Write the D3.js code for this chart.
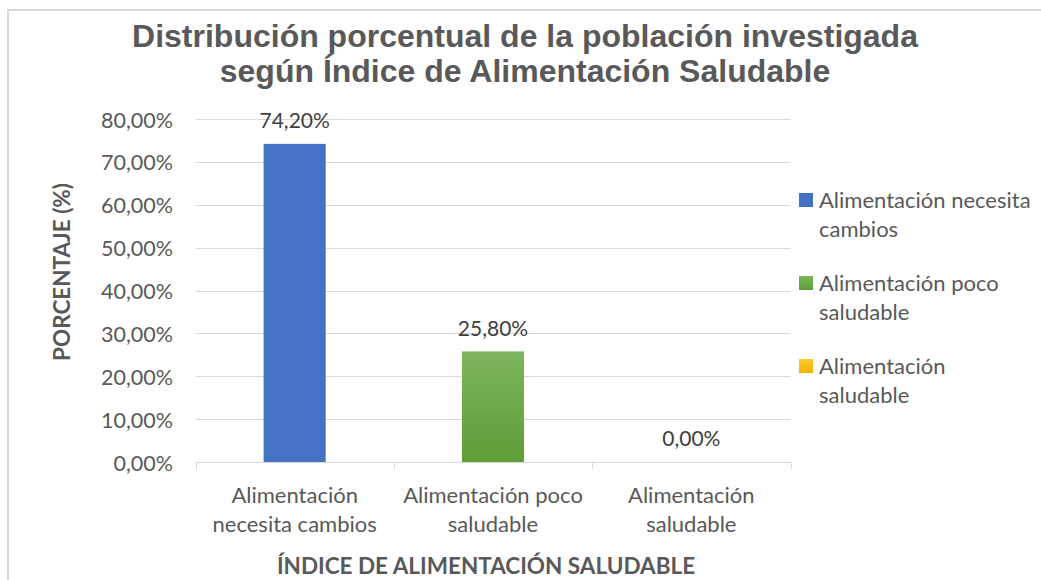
<!DOCTYPE html>
<html>
<head>
<meta charset="utf-8">
<script src="https://cdn.jsdelivr.net/npm/d3@7"></script>
<style>
  html, body { margin: 0; padding: 0; background: #fff; }
  svg { display: block; }
</style>
</head>
<body>
<svg id="chart" width="1041" height="580"></svg>
<script>
const titleLines = ["Distribución porcentual de la población investigada", "según Índice de Alimentación Saludable"];
const categories = ["Alimentación necesita cambios", "Alimentación poco saludable", "Alimentación saludable"];
const categoryLabelLines = [["Alimentación", "necesita cambios"], ["Alimentación poco", "saludable"], ["Alimentación", "saludable"]];
const values = [74.2, 25.8, 0.0];
const valueLabels = ["74,20%", "25,80%", "0,00%"];
const yTicks = [0, 10, 20, 30, 40, 50, 60, 70, 80];
const yTickLabels = ["0,00%", "10,00%", "20,00%", "30,00%", "40,00%", "50,00%", "60,00%", "70,00%", "80,00%"];
const legendLines = [["Alimentación necesita", "cambios"], ["Alimentación poco", "saludable"], ["Alimentación", "saludable"]];
const colors = ["#4472c4", "url(#gGreen)", "url(#gYellow)"];
const xTitle = "ÍNDICE DE ALIMENTACIÓN SALUDABLE";
const yTitle = "PORCENTAJE (%)";

const svg = d3.select("#chart");
const font = "Lato, 'Open Sans', sans-serif";
const textCol = "#595959";

const defs = svg.append("defs");
const gg = defs.append("linearGradient").attr("id", "gGreen").attr("x1", 0).attr("y1", 0).attr("x2", 0).attr("y2", 1);
gg.append("stop").attr("offset", "0%").attr("stop-color", "#7db55f");
gg.append("stop").attr("offset", "100%").attr("stop-color", "#5f9d36");
const gy = defs.append("linearGradient").attr("id", "gYellow").attr("x1", 0).attr("y1", 0).attr("x2", 0).attr("y2", 1);
gy.append("stop").attr("offset", "0%").attr("stop-color", "#ffcb33");
gy.append("stop").attr("offset", "100%").attr("stop-color", "#f0b400");

// chart border
svg.append("path").attr("d", "M8,580 L8,10 L1041,10").attr("fill", "none").attr("stroke", "#d9d9d9").attr("stroke-width", 2);

// title
svg.append("text").attr("font-family", "'Liberation Sans', Arial, sans-serif")
  .attr("font-weight", "bold").attr("font-size", 32).attr("fill", textCol).attr("text-anchor", "middle")
  .selectAll("tspan").data(titleLines).join("tspan")
  .attr("x", 525).attr("y", (d, i) => 47 + i * 35).text(d => d);

const x = d3.scaleBand().domain(categories).range([195.5, 790.5]).paddingInner(0.687).paddingOuter(0.3435);
const xb = d3.scaleBand().domain(categories).range([195.5, 790.5]).padding(0);
const y = d3.scaleLinear().domain([0, 80]).range([462, 119]);

// gridlines
svg.append("g").selectAll("line").data(yTicks.filter(t => t > 0)).join("line")
  .attr("x1", 195.5).attr("x2", 790.5).attr("y1", d => Math.round(y(d)) + 0.5).attr("y2", d => Math.round(y(d)) + 0.5)
  .attr("stroke", "#d9d9d9").attr("stroke-width", 1);

// y tick labels
svg.append("g").selectAll("text").data(yTicks).join("text")
  .attr("x", 173).attr("y", d => y(d) + 1).attr("dy", "0.35em").attr("text-anchor", "end")
  .attr("font-family", font).attr("font-size", 21.5).attr("fill", textCol)
  .text((d, i) => yTickLabels[i]);

// bars
svg.append("g").selectAll("rect").data(values).join("rect")
  .attr("x", (d, i) => x(categories[i])).attr("width", x.bandwidth())
  .attr("y", d => y(d)).attr("height", d => y(0) - y(d))
  .attr("fill", (d, i) => colors[i]);

// x axis line and ticks
svg.append("line").attr("x1", 195.5).attr("x2", 790.5).attr("y1", 462.5).attr("y2", 462.5).attr("stroke", "#d9d9d9");
const bounds = categories.map(c => xb(c)).concat([xb.range()[1]]);
svg.append("g").selectAll("line").data(bounds).join("line")
  .attr("x1", d => Math.round(d) + 0.5).attr("x2", d => Math.round(d) + 0.5).attr("y1", 462).attr("y2", 469)
  .attr("stroke", "#d9d9d9");

// value labels
svg.append("g").selectAll("text").data(values).join("text")
  .attr("x", (d, i) => x(categories[i]) + x.bandwidth() / 2).attr("y", d => y(d) - 23)
  .attr("dy", "0.35em").attr("text-anchor", "middle")
  .attr("font-family", font).attr("font-size", 21).attr("fill", "#404040")
  .text((d, i) => valueLabels[i]);

// category labels
categoryLabelLines.forEach((lines, i) => {
  const cx = xb(categories[i]) + xb.bandwidth() / 2;
  svg.append("text").attr("text-anchor", "middle").attr("font-family", font).attr("font-size", 22).attr("fill", textCol)
    .selectAll("tspan").data(lines).join("tspan")
    .attr("x", cx).attr("y", (d, j) => 495 + j * 29).attr("dy", "0.35em").text(d => d);
});

// axis titles
svg.append("text").attr("x", 486).attr("y", 566).attr("dy", "0.35em").attr("text-anchor", "middle")
  .attr("font-family", font).attr("font-weight", "bold").attr("font-size", 22.5).attr("fill", textCol).text(xTitle);
svg.append("text").attr("transform", "translate(62,272) rotate(-90)").attr("dy", "0.35em").attr("text-anchor", "middle")
  .attr("font-family", font).attr("font-weight", "bold").attr("font-size", 22.5).attr("fill", textCol).text(yTitle);

// legend
const legendColors = ["#4472c4", "url(#gGreen)", "url(#gYellow)"];
legendLines.forEach((lines, i) => {
  const ly = 200 + i * 83;
  svg.append("rect").attr("x", 799).attr("y", ly - 7).attr("width", 14).attr("height", 14).attr("fill", legendColors[i]);
  svg.append("text").attr("font-family", font).attr("font-size", 22).attr("fill", textCol)
    .selectAll("tspan").data(lines).join("tspan")
    .attr("x", 819).attr("y", (d, j) => ly + j * 29).attr("dy", "0.35em").text(d => d);
});
</script>
</body>
</html>
